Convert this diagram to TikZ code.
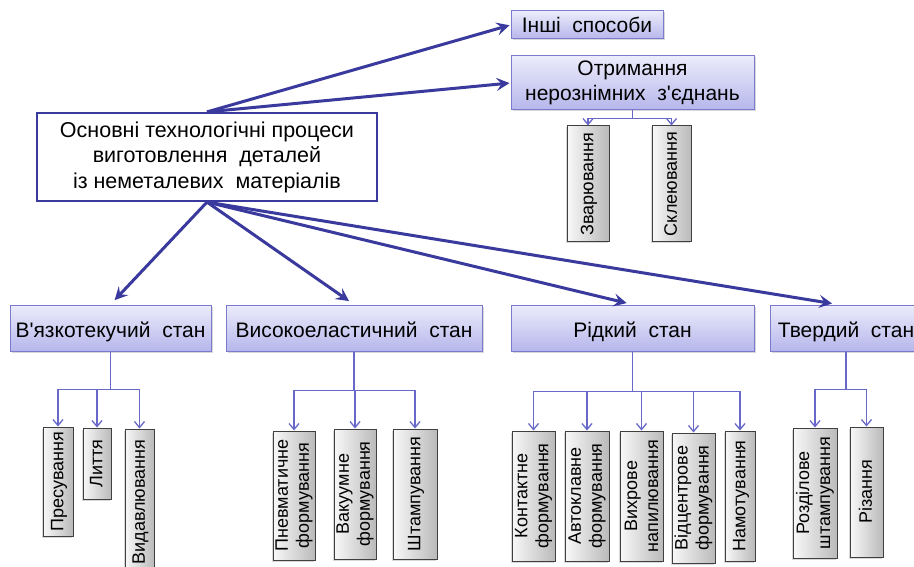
\documentclass[tikz,border=0pt]{standalone}
\usepackage{fontspec}
\setmainfont{Liberation Sans}[Ligatures=TeXOff]
\usetikzlibrary{arrows.meta,shadows,calc}
\definecolor{navy}{HTML}{3A3A9E}
\definecolor{thinc}{HTML}{6868C8}
\definecolor{sborder}{HTML}{7A7ACE}
\definecolor{stopc}{HTML}{ECECFB}
\definecolor{sbotc}{HTML}{B6B6EC}
\definecolor{glight}{HTML}{F8F8F8}
\definecolor{gdark}{HTML}{BABABA}
\begin{document}
\begin{tikzpicture}[x=1pt,y=-1pt,
  mainbox/.style={draw=navy, line width=2.2pt, fill=white, inner sep=0pt, align=center,
    font=\fontsize{21.5}{25.5}\selectfont},
  statebox/.style={draw=sborder, line width=1pt, top color=stopc, bottom color=sbotc,
    inner sep=0pt, align=center, font=\fontsize{21}{25}\selectfont,
    drop shadow={shadow xshift=1.5pt, shadow yshift=-1.5pt, opacity=0.3}},
  oneline/.style={text height=21pt, text depth=2pt},
  childbox/.style={draw=black!75, line width=1pt, rotate=90, left color=glight, right color=gdark,
    inner sep=0pt, align=center, font=\fontsize{18}{21}\selectfont,
    drop shadow={shadow xshift=-1.5pt, shadow yshift=-1.5pt, opacity=0.3}},
  vone/.style={text height=13.5pt, text depth=3pt},
  bigarrow/.style={draw=navy, line width=3pt, -{Stealth[length=13pt,width=13pt,inset=5pt]}},
  thinarrow/.style={draw=thinc, line width=1.3pt, -{Straight Barb[length=6pt,width=10pt]}}
]
\path[fill=white] (0,0) rectangle (914,567);
\clip (0,0) rectangle (914,567);

% main and top boxes
\node[mainbox, minimum width=340pt, minimum height=88pt] (main) at (207,157)
  {Основні технологічні процеси\\виготовлення~ деталей\\із неметалевих~ матеріалів};
\node[statebox, text height=18pt, text depth=2pt, minimum width=152pt, minimum height=28pt] (inshi) at (587,25) {Інші~ способи};
\node[statebox, minimum width=243pt, minimum height=54pt] (otr) at (632.5,83)
  {Отримання\\нерознімних~ з'єднань};
\node[childbox, vone, minimum width=116pt, minimum height=42pt] (zvar) at (588,184) {Зварювання};
\node[childbox, vone, minimum width=116pt, minimum height=39pt] (skl) at (671.5,184) {Склеювання};

% states
\node[statebox, oneline, minimum width=201pt, minimum height=46pt] (vt) at (110.5,328) {В'язкотекучий~ стан};
\node[statebox, oneline, minimum width=256pt, minimum height=46pt] (ve) at (354,328) {Високоеластичний~ стан};
\node[statebox, oneline, minimum width=243pt, minimum height=46pt] (rd) at (632.5,328) {Рідкий~ стан};
\node[statebox, oneline, minimum width=152pt, minimum height=46pt] (tv) at (846,328) {Твердий~ стан};

% children
\node[childbox, vone, minimum width=109pt, minimum height=30pt] (pres) at (58,481.5) {Пресування};
\node[childbox, vone, minimum width=71pt, minimum height=28pt] (lyt) at (97,463.5) {Лиття};
\node[childbox, vone, minimum width=146pt, minimum height=29pt] (vyd) at (139.5,502) {Видавлювання};
\node[childbox, minimum width=129pt, minimum height=42pt] (pnev) at (294,495.5) {Пневматичне\\формування};
\node[childbox, minimum width=130pt, minimum height=42pt] (vak) at (355,494) {Вакуумне\\формування};
\node[childbox, vone, minimum width=130pt, minimum height=44pt] (shtamp) at (415,494) {Штампування};
\node[childbox, minimum width=130pt, minimum height=43pt] (kont) at (533.5,496) {Контактне\\формування};
\node[childbox, minimum width=130pt, minimum height=44pt] (avto) at (587,496) {Автоклавне\\формування};
\node[childbox, minimum width=130pt, minimum height=43pt] (vykhr) at (641.5,496) {Вихрове\\напилювання};
\node[childbox, minimum width=130pt, minimum height=43pt] (vidc) at (693.5,498) {Відцентрове\\формування};
\node[childbox, vone, minimum width=130pt, minimum height=30pt] (namot) at (740,496) {Намотування};
\node[childbox, minimum width=130pt, minimum height=44pt] (rozd) at (815,493) {Розділове\\штампування};
\node[childbox, vone, minimum width=130pt, minimum height=33pt] (riz) at (866.5,492) {Різання};

% big arrows
\draw[bigarrow, shorten >=1pt] (main.north) -- (inshi.west);
\draw[bigarrow, shorten >=1pt] (main.north) -- (otr.west);
\draw[bigarrow, shorten >=6pt] (main.south) -- (vt.north);
\draw[bigarrow, shorten >=6pt] (main.south) -- (ve.north);
\draw[bigarrow, shorten >=6pt] (main.south) -- (rd.north);
\draw[bigarrow, shorten >=6pt] (main.south) -- ($(tv.north)+(-8,0)$);

% thin branches
\foreach \c in {zvar,skl} \draw[thinarrow] (otr.south) -- ++(0,8) -| (\c.east);
\foreach \c in {pres,lyt,vyd} \draw[thinarrow] (vt.south) -- ++(0,38) -| (\c.east);
\foreach \c in {pnev,vak,shtamp} \draw[thinarrow] (ve.south) -- ++(0,39) -| (\c.east);
\foreach \c in {kont,avto,vykhr,vidc,namot} \draw[thinarrow] (rd.south) -- ++(0,40) -| (\c.east);
\foreach \c in {rozd,riz} \draw[thinarrow] (tv.south) -- ++(0,38) -| (\c.east);
\end{tikzpicture}
\end{document}
